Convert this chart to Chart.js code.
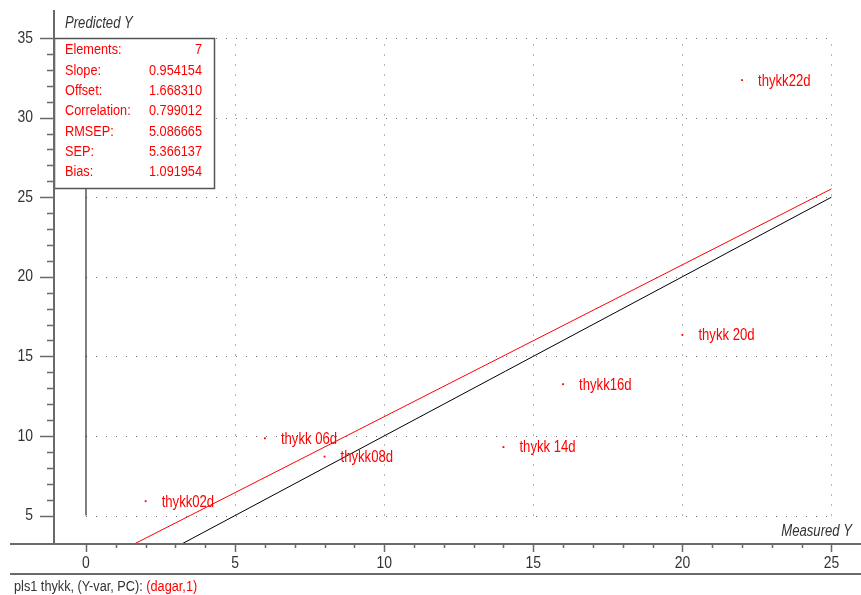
<!DOCTYPE html>
<html>
<head>
<meta charset="utf-8">
<script src="https://cdn.jsdelivr.net/npm/chart.js@4.4.1/dist/chart.umd.min.js"></script>
<style>
  html, body { margin: 0; padding: 0; background: #fff; overflow: hidden; }
  #wrap { width: 861px; height: 595px; }
</style>
</head>
<body>
<div id="wrap"><canvas id="c" width="861" height="595"></canvas></div>
<script>
// Sample names and their measured / predicted thickness values
const sampleNames = ['thykk02d', 'thykk 06d', 'thykk08d', 'thykk 14d', 'thykk16d', 'thykk 20d', 'thykk22d'];
const measuredY  = [2, 6, 8, 14, 16, 20, 22];
const predictedY = [5.9, 9.85, 8.7, 9.3, 13.25, 16.35, 32.35];

// Regression statistics shown in the summary box
const statNames  = ['Elements:', 'Slope:', 'Offset:', 'Correlation:', 'RMSEP:', 'SEP:', 'Bias:'];
const statValues = ['7', '0.954154', '1.668310', '0.799012', '5.086665', '5.366137', '1.091954'];
const slope  = 0.954154;
const offset = 1.668310;

// Axis ticks
const xTickLabels = [0, 5, 10, 15, 20, 25];
const yTickLabels = [5, 10, 15, 20, 25, 30, 35];
const xMinorTicks = Array.from({length: 26}, (_, i) => i);
const yMinorTicks = Array.from({length: 31}, (_, i) => i + 5);

const RED = '#ff0000';
const AXIS = '#6a6a6a';
const FONT = '"Liberation Sans", Arial, sans-serif';

function txt(ctx, s, x, y, o = {}) {
  const size = o.size || 15.5, sx = o.sx || 0.82;
  ctx.save();
  ctx.font = (o.italic ? 'italic ' : '') + size + 'px ' + FONT;
  ctx.fillStyle = o.color || '#222';
  ctx.textBaseline = 'middle';
  ctx.textAlign = o.align || 'left';
  ctx.translate(x, y);
  ctx.scale(sx, 1);
  ctx.fillText(s, 0, 0);
  ctx.restore();
}

const framePlugin = {
  id: 'frame',
  beforeDatasetsDraw(chart) {
    const {ctx, scales: {x, y}} = chart;
    ctx.save();
    ctx.strokeStyle = '#6f6f6f';
    ctx.lineWidth = 1;
    ctx.setLineDash([1, 9]);
    yTickLabels.forEach(v => {
      const py = Math.round(y.getPixelForValue(v)) + 0.5;
      ctx.beginPath();
      ctx.moveTo(x.getPixelForValue(0), py);
      ctx.lineTo(x.getPixelForValue(25), py);
      ctx.stroke();
    });
    xTickLabels.slice(1).forEach(v => {
      const px = Math.round(x.getPixelForValue(v)) + 0.5;
      ctx.beginPath();
      ctx.moveTo(px, y.getPixelForValue(5));
      ctx.lineTo(px, y.getPixelForValue(35));
      ctx.stroke();
    });
    ctx.restore();
  },
  afterDatasetsDraw(chart) {
    const {ctx, chartArea: ca, scales: {x, y}} = chart;

    // sample labels beside each point
    sampleNames.forEach((n, i) => {
      txt(ctx, n, x.getPixelForValue(measuredY[i]) + 16, y.getPixelForValue(predictedY[i]) + 1,
          {color: RED, size: 16});
    });

    // statistics box
    const bx = ca.left, by = Math.round(y.getPixelForValue(35)), bw = 160, bh = 150;
    ctx.save();
    ctx.fillStyle = '#fff';
    ctx.fillRect(bx, by, bw, bh);
    ctx.strokeStyle = '#555';
    ctx.lineWidth = 1.5;
    ctx.strokeRect(bx + 0.5, by + 0.5, bw, bh);
    ctx.restore();
    statNames.forEach((n, i) => {
      const ry = by + 12 + i * 20.33;
      txt(ctx, n, bx + 11, ry, {color: RED});
      txt(ctx, statValues[i], bx + 148, ry, {color: RED, align: 'right'});
    });

    // axis lines
    const axisY = ca.bottom;
    ctx.save();
    ctx.strokeStyle = AXIS;
    ctx.lineWidth = 2;
    ctx.beginPath();
    ctx.moveTo(10, axisY); ctx.lineTo(861, axisY);
    ctx.moveTo(ca.left, ca.top); ctx.lineTo(ca.left, axisY);
    ctx.moveTo(10, axisY + 30); ctx.lineTo(861, axisY + 30);
    ctx.stroke();

    // ticks
    ctx.lineWidth = 1.5;
    ctx.beginPath();
    xMinorTicks.forEach(v => {
      const px = Math.round(x.getPixelForValue(v)) + 0.5;
      const len = v % 5 === 0 ? 8 : 4;
      ctx.moveTo(px, axisY); ctx.lineTo(px, axisY + len);
    });
    yMinorTicks.forEach(v => {
      const py = Math.round(y.getPixelForValue(v)) + 0.5;
      const len = v % 5 === 0 ? 14 : 7;
      ctx.moveTo(ca.left, py); ctx.lineTo(ca.left - len, py);
    });
    ctx.stroke();
    ctx.restore();

    xTickLabels.forEach(v => txt(ctx, String(v), x.getPixelForValue(v), axisY + 19, {size: 17, color: '#333', align: 'center'}));
    yTickLabels.forEach(v => txt(ctx, String(v), ca.left - 21, y.getPixelForValue(v), {size: 17, color: '#333', align: 'right'}));

    // axis titles
    txt(ctx, 'Predicted Y', ca.left + 11, 24, {italic: true, size: 16, color: '#333'});
    txt(ctx, 'Measured Y', 852, axisY - 12, {italic: true, size: 16, color: '#333', align: 'right'});

    // footer caption
    const cap = 'pls1 thykk, (Y-var, PC): ';
    ctx.save();
    ctx.font = '15.5px ' + FONT;
    const w = ctx.measureText(cap).width * 0.82;
    ctx.restore();
    txt(ctx, cap, 14, axisY + 43, {color: '#333'});
    txt(ctx, '(dagar,1)', 14 + w, axisY + 43, {color: RED});
  }
};

new Chart(document.getElementById('c'), {
  type: 'scatter',
  data: {
    datasets: [
      {
        label: 'samples',
        data: measuredY.map((m, i) => ({x: m, y: predictedY[i]})),
        pointStyle: 'rect',
        pointRadius: 1.3,
        backgroundColor: RED,
        borderWidth: 0
      },
      {
        type: 'line',
        label: 'regression',
        data: [{x: 0, y: offset}, {x: 25, y: slope * 25 + offset}],
        borderColor: RED,
        borderWidth: 1,
        pointRadius: 0
      },
      {
        type: 'line',
        label: 'target',
        data: [{x: 0, y: 0}, {x: 25, y: 25}],
        borderColor: '#000',
        borderWidth: 1,
        pointRadius: 0
      },
      {
        type: 'line',
        label: 'origin',
        data: [{x: 0, y: 5}, {x: 0, y: 35}],
        borderColor: '#000',
        borderWidth: 1,
        pointRadius: 0
      }
    ]
  },
  options: {
    responsive: false,
    animation: false,
    devicePixelRatio: 1,
    layout: {autoPadding: false, padding: {left: 54, top: 10, right: 0, bottom: 51}},
    plugins: {legend: {display: false}, tooltip: {enabled: false}},
    scales: {
      x: {type: 'linear', display: false, min: -1.073, max: 25.99},
      y: {type: 'linear', display: false, min: 3.21, max: 36.76}
    }
  },
  plugins: [framePlugin]
});
</script>
</body>
</html>
